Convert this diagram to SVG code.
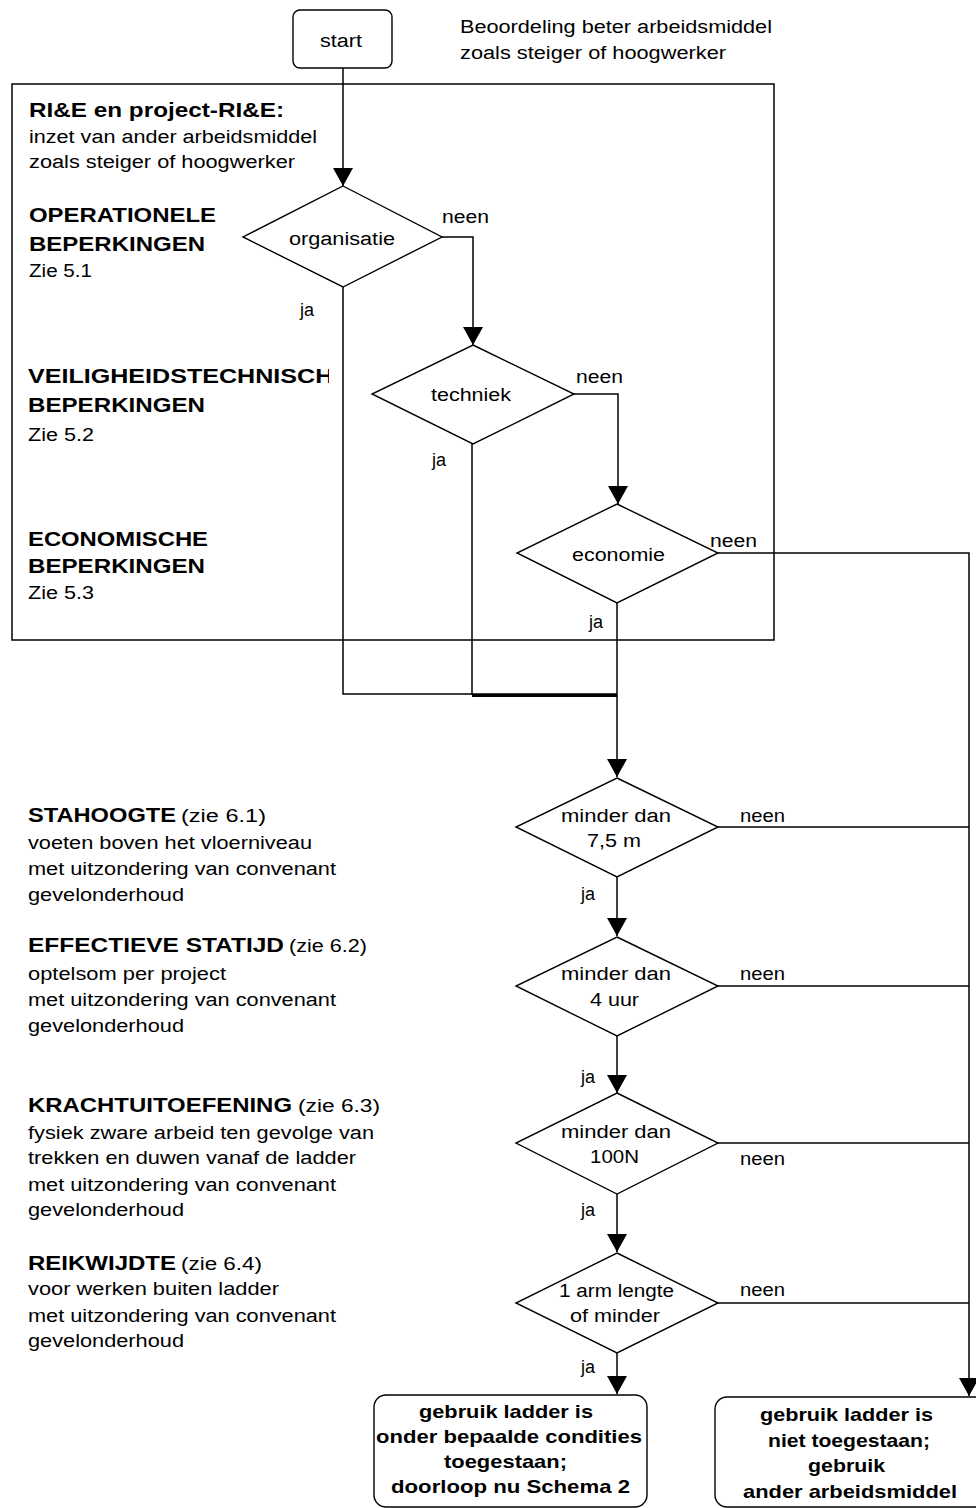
<svg xmlns="http://www.w3.org/2000/svg" width="976" height="1508" viewBox="0 0 976 1508">
<style>
.t{font-family:"Liberation Sans",Arial,sans-serif;font-size:18px;fill:#000}
.b{font-weight:bold;font-size:21px}
.fb{font-weight:bold;font-size:19px}
.s{fill:#fff;stroke:#000;stroke-width:1.4}
.c{fill:none;stroke:#000;stroke-width:1.5}
</style>
<defs>
<marker id="arr" markerUnits="userSpaceOnUse" markerWidth="20" markerHeight="20" viewBox="0 0 18 20" refX="18" refY="10" orient="auto"><path d="M0,0 L18,10 L0,20 z" fill="#000"/></marker>
<clipPath id="clipV"><rect x="0" y="350" width="329" height="50"/></clipPath>
</defs>
<rect width="976" height="1508" fill="#fff"/>

<g id="frame">
<rect x="12" y="84" width="762" height="556" fill="none" stroke="#000" stroke-width="1.5"/>
</g>

<g id="labels-top">
<text class="t" x="460" y="33" textLength="312" lengthAdjust="spacingAndGlyphs">Beoordeling beter arbeidsmiddel</text>
<text class="t" x="460" y="59" textLength="266" lengthAdjust="spacingAndGlyphs">zoals steiger of hoogwerker</text>
<text class="t b" x="29" y="117" textLength="255" lengthAdjust="spacingAndGlyphs">RI&amp;E en project-RI&amp;E:</text>
<text class="t" x="29" y="143" textLength="288" lengthAdjust="spacingAndGlyphs">inzet van ander arbeidsmiddel</text>
<text class="t" x="29" y="168" textLength="266" lengthAdjust="spacingAndGlyphs">zoals steiger of hoogwerker</text>
<text class="t b" x="29" y="222" textLength="187" lengthAdjust="spacingAndGlyphs">OPERATIONELE</text>
<text class="t b" x="29" y="251" textLength="176" lengthAdjust="spacingAndGlyphs">BEPERKINGEN</text>
<text class="t" x="29" y="277" textLength="63" lengthAdjust="spacingAndGlyphs">Zie 5.1</text>
<g clip-path="url(#clipV)"><text class="t b" x="28" y="383" textLength="322" lengthAdjust="spacingAndGlyphs">VEILIGHEIDSTECHNISCHE</text></g>
<text class="t b" x="28" y="412" textLength="177" lengthAdjust="spacingAndGlyphs">BEPERKINGEN</text>
<text class="t" x="28" y="441" textLength="66" lengthAdjust="spacingAndGlyphs">Zie 5.2</text>
<text class="t b" x="28" y="546" textLength="180" lengthAdjust="spacingAndGlyphs">ECONOMISCHE</text>
<text class="t b" x="28" y="573" textLength="177" lengthAdjust="spacingAndGlyphs">BEPERKINGEN</text>
<text class="t" x="28" y="599" textLength="66" lengthAdjust="spacingAndGlyphs">Zie 5.3</text>
</g>

<g id="labels-bottom">
<text class="t b" x="28" y="822" textLength="148" lengthAdjust="spacingAndGlyphs">STAHOOGTE</text>
<text class="t" x="181" y="822" textLength="85" lengthAdjust="spacingAndGlyphs">(zie 6.1)</text>
<text class="t" x="28" y="849" textLength="284" lengthAdjust="spacingAndGlyphs">voeten boven het vloerniveau</text>
<text class="t" x="28" y="875" textLength="308" lengthAdjust="spacingAndGlyphs">met uitzondering van convenant</text>
<text class="t" x="28" y="901" textLength="156" lengthAdjust="spacingAndGlyphs">gevelonderhoud</text>
<text class="t b" x="28" y="952" textLength="256" lengthAdjust="spacingAndGlyphs">EFFECTIEVE STATIJD</text>
<text class="t" x="289" y="952" textLength="78" lengthAdjust="spacingAndGlyphs">(zie 6.2)</text>
<text class="t" x="28" y="980" textLength="198" lengthAdjust="spacingAndGlyphs">optelsom per project</text>
<text class="t" x="28" y="1006" textLength="308" lengthAdjust="spacingAndGlyphs">met uitzondering van convenant</text>
<text class="t" x="28" y="1032" textLength="156" lengthAdjust="spacingAndGlyphs">gevelonderhoud</text>
<text class="t b" x="28" y="1112" textLength="264" lengthAdjust="spacingAndGlyphs">KRACHTUITOEFENING</text>
<text class="t" x="298" y="1112" textLength="82" lengthAdjust="spacingAndGlyphs">(zie 6.3)</text>
<text class="t" x="28" y="1139" textLength="346" lengthAdjust="spacingAndGlyphs">fysiek zware arbeid ten gevolge van</text>
<text class="t" x="28" y="1164" textLength="328" lengthAdjust="spacingAndGlyphs">trekken en duwen vanaf de ladder</text>
<text class="t" x="28" y="1191" textLength="308" lengthAdjust="spacingAndGlyphs">met uitzondering van convenant</text>
<text class="t" x="28" y="1216" textLength="156" lengthAdjust="spacingAndGlyphs">gevelonderhoud</text>
<text class="t b" x="28" y="1270" textLength="148" lengthAdjust="spacingAndGlyphs">REIKWIJDTE</text>
<text class="t" x="181" y="1270" textLength="81" lengthAdjust="spacingAndGlyphs">(zie 6.4)</text>
<text class="t" x="28" y="1295" textLength="251" lengthAdjust="spacingAndGlyphs">voor werken buiten ladder</text>
<text class="t" x="28" y="1322" textLength="308" lengthAdjust="spacingAndGlyphs">met uitzondering van convenant</text>
<text class="t" x="28" y="1347" textLength="156" lengthAdjust="spacingAndGlyphs">gevelonderhoud</text>
</g>

<g id="connectors">
<path class="c" d="M343,68 V186" marker-end="url(#arr)"/>
<path class="c" d="M442,237 H473 V345" marker-end="url(#arr)"/>
<path class="c" d="M343,287 V694 H617"/>
<path class="c" d="M574,394 H618 V504" marker-end="url(#arr)"/>
<path class="c" d="M472,444 V695"/>
<path fill="none" stroke="#000" stroke-width="3" d="M472,695.5 H617"/>
<path class="c" d="M718,553 H969 V1396" marker-end="url(#arr)"/>
<path class="c" d="M617,603 V777" marker-end="url(#arr)"/>
<path class="c" d="M718,827 H969"/>
<path class="c" d="M617,877 V936" marker-end="url(#arr)"/>
<path class="c" d="M718,986 H969"/>
<path class="c" d="M617,1036 V1093" marker-end="url(#arr)"/>
<path class="c" d="M718,1143 H969"/>
<path class="c" d="M617,1194 V1252" marker-end="url(#arr)"/>
<path class="c" d="M718,1303 H969"/>
<path class="c" d="M617,1353 V1394" marker-end="url(#arr)"/>
<text class="t" x="442" y="223" textLength="47" lengthAdjust="spacingAndGlyphs">neen</text>
<text class="t" x="300" y="316">ja</text>
<text class="t" x="576" y="383" textLength="47" lengthAdjust="spacingAndGlyphs">neen</text>
<text class="t" x="432" y="466">ja</text>
<text class="t" x="710" y="547" textLength="47" lengthAdjust="spacingAndGlyphs">neen</text>
<text class="t" x="589" y="628">ja</text>
<text class="t" x="740" y="822" textLength="45" lengthAdjust="spacingAndGlyphs">neen</text>
<text class="t" x="581" y="900">ja</text>
<text class="t" x="740" y="980" textLength="45" lengthAdjust="spacingAndGlyphs">neen</text>
<text class="t" x="581" y="1083">ja</text>
<text class="t" x="740" y="1165" textLength="45" lengthAdjust="spacingAndGlyphs">neen</text>
<text class="t" x="581" y="1216">ja</text>
<text class="t" x="740" y="1296" textLength="45" lengthAdjust="spacingAndGlyphs">neen</text>
<text class="t" x="581" y="1373">ja</text>
</g>

<g id="start">
<rect class="s" x="293" y="10" width="99" height="58" rx="7"/>
<text class="t" x="320" y="47" textLength="42" lengthAdjust="spacingAndGlyphs">start</text>
</g>

<g id="organisatie">
<polygon class="s" points="343,186 442,237 343,287 243,237"/>
<text class="t" x="289" y="245" textLength="106" lengthAdjust="spacingAndGlyphs">organisatie</text>
</g>

<g id="techniek">
<polygon class="s" points="473,345 574,394 473,444 372,394"/>
<text class="t" x="431" y="401" textLength="80" lengthAdjust="spacingAndGlyphs">techniek</text>
</g>

<g id="economie">
<polygon class="s" points="617,504 718,553 617,603 517,553"/>
<text class="t" x="572" y="561" textLength="93" lengthAdjust="spacingAndGlyphs">economie</text>
</g>

<g id="stahoogte">
<polygon class="s" points="617,778 718,827 617,877 516,827"/>
<text class="t" x="561" y="822" textLength="110" lengthAdjust="spacingAndGlyphs">minder dan</text>
<text class="t" x="587" y="847" textLength="54" lengthAdjust="spacingAndGlyphs">7,5 m</text>
</g>

<g id="statijd">
<polygon class="s" points="617,937 718,986 617,1036 516,986"/>
<text class="t" x="561" y="980" textLength="110" lengthAdjust="spacingAndGlyphs">minder dan</text>
<text class="t" x="590" y="1006" textLength="49" lengthAdjust="spacingAndGlyphs">4 uur</text>
</g>

<g id="kracht">
<polygon class="s" points="617,1093 718,1143 617,1194 516,1143"/>
<text class="t" x="561" y="1138" textLength="110" lengthAdjust="spacingAndGlyphs">minder dan</text>
<text class="t" x="590" y="1163" textLength="49" lengthAdjust="spacingAndGlyphs">100N</text>
</g>

<g id="reikwijdte">
<polygon class="s" points="617,1253 718,1303 617,1353 516,1303"/>
<text class="t" x="559" y="1297" textLength="115" lengthAdjust="spacingAndGlyphs">1 arm lengte</text>
<text class="t" x="570" y="1322" textLength="90" lengthAdjust="spacingAndGlyphs">of minder</text>
</g>

<g id="toegestaan">
<rect class="s" x="374" y="1395" width="273" height="112" rx="12"/>
<text class="t fb" x="419" y="1418" textLength="174" lengthAdjust="spacingAndGlyphs">gebruik ladder is</text>
<text class="t fb" x="376" y="1443" textLength="266" lengthAdjust="spacingAndGlyphs">onder bepaalde condities</text>
<text class="t fb" x="444" y="1468" textLength="123" lengthAdjust="spacingAndGlyphs">toegestaan;</text>
<text class="t fb" x="391" y="1493" textLength="239" lengthAdjust="spacingAndGlyphs">doorloop nu Schema 2</text>
</g>

<g id="niet-toegestaan">
<rect class="s" x="715" y="1397" width="290" height="110" rx="12"/>
<text class="t fb" x="760" y="1421" textLength="173" lengthAdjust="spacingAndGlyphs">gebruik ladder is</text>
<text class="t fb" x="768" y="1447" textLength="162" lengthAdjust="spacingAndGlyphs">niet toegestaan;</text>
<text class="t fb" x="808" y="1472" textLength="77" lengthAdjust="spacingAndGlyphs">gebruik</text>
<text class="t fb" x="743" y="1498" textLength="214" lengthAdjust="spacingAndGlyphs">ander arbeidsmiddel</text>
</g>
</svg>
